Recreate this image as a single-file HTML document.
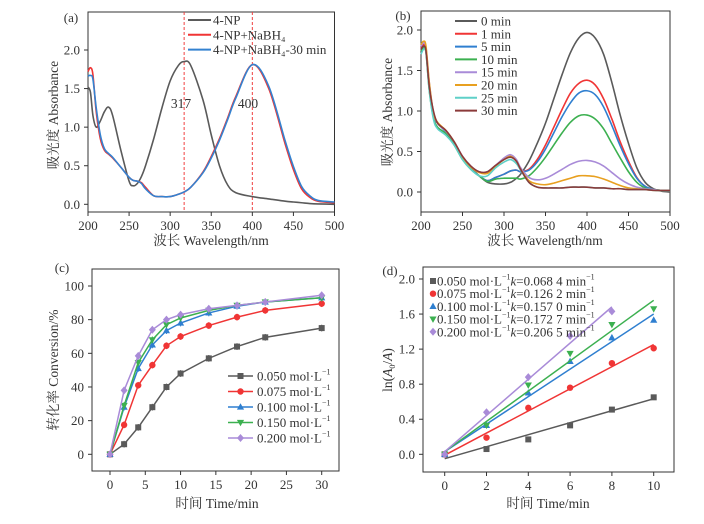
<!DOCTYPE html>
<html><head><meta charset="utf-8"><style>
html,body{margin:0;padding:0;background:#fff;width:704px;height:524px;overflow:hidden}
svg{display:block;font-family:"Liberation Serif","Noto Serif CJK SC","Noto Sans CJK SC",serif}
</style></head><body>
<svg id="fig" width="704" height="524" viewBox="0 0 704 524"></svg>
<script>
// ---------- data ----------
const wlA = [200,203,206,210,215,220,225,230,240,250,255,260,265,270,280,290,300,310,317,325,340,350,360,370,380,400,420,440,450,460,470,480,500];
const aNP   = [1.52,1.45,1.15,1.0,1.08,1.2,1.26,1.15,0.7,0.3,0.24,0.27,0.36,0.5,0.85,1.25,1.6,1.8,1.85,1.8,1.35,0.9,0.5,0.25,0.15,0.1,0.07,0.04,0.03,0.02,0.01,0.005,0.0];
const aNaBH = [1.72,1.77,1.68,1.2,0.85,0.7,0.65,0.6,0.48,0.35,0.31,0.3,0.28,0.22,0.11,0.1,0.1,0.13,0.16,0.22,0.42,0.62,0.85,1.12,1.4,1.81,1.5,0.78,0.45,0.2,0.09,0.04,0.02];
const aNaBH30 = [1.66,1.67,1.62,1.25,0.9,0.72,0.66,0.61,0.48,0.35,0.31,0.3,0.27,0.2,0.11,0.1,0.1,0.13,0.16,0.22,0.41,0.6,0.83,1.1,1.38,1.81,1.53,0.82,0.49,0.23,0.11,0.05,0.03];
const aLabels = ["4-NP","4-NP+NaBH\u2084","4-NP+NaBH\u2084-30 min"];

const wlB = [200,203,206,210,215,220,230,240,250,260,270,280,290,300,308,315,320,330,340,350,360,370,380,390,400,410,420,430,440,450,460,470,480,490,500];
const b0  = [1.78,1.82,1.75,1.3,0.95,0.85,0.75,0.6,0.42,0.3,0.2,0.12,0.1,0.1,0.12,0.17,0.22,0.38,0.6,0.85,1.15,1.45,1.72,1.9,1.97,1.9,1.7,1.35,0.95,0.6,0.3,0.12,0.04,0.01,0.0];
const b1  = [1.78,1.82,1.75,1.3,0.95,0.85,0.75,0.6,0.42,0.3,0.2,0.14,0.18,0.22,0.26,0.27,0.25,0.28,0.4,0.58,0.8,1.02,1.22,1.34,1.38,1.32,1.15,0.9,0.62,0.38,0.18,0.07,0.03,0.02,0.02];
const b5  = [1.76,1.8,1.74,1.3,0.95,0.85,0.74,0.6,0.42,0.3,0.2,0.14,0.18,0.22,0.26,0.27,0.25,0.27,0.37,0.53,0.73,0.93,1.1,1.22,1.25,1.2,1.05,0.82,0.57,0.35,0.17,0.07,0.03,0.02,0.02];
const b10 = [1.74,1.78,1.72,1.25,0.92,0.8,0.72,0.58,0.4,0.28,0.2,0.13,0.16,0.17,0.17,0.17,0.16,0.2,0.3,0.43,0.58,0.73,0.86,0.94,0.95,0.9,0.78,0.6,0.42,0.25,0.12,0.05,0.03,0.02,0.02];
const b15 = [1.8,1.84,1.78,1.35,0.98,0.85,0.75,0.62,0.44,0.32,0.25,0.25,0.33,0.42,0.46,0.4,0.3,0.18,0.15,0.17,0.22,0.28,0.34,0.38,0.39,0.37,0.32,0.24,0.16,0.1,0.06,0.04,0.03,0.02,0.02];
const b20 = [1.82,1.86,1.8,1.35,0.98,0.86,0.76,0.62,0.43,0.31,0.24,0.23,0.32,0.4,0.44,0.38,0.28,0.14,0.1,0.09,0.11,0.14,0.17,0.2,0.2,0.19,0.16,0.12,0.08,0.05,0.04,0.03,0.02,0.02,0.02];
const b25 = [1.7,1.76,1.72,1.25,0.9,0.78,0.7,0.58,0.4,0.28,0.2,0.2,0.3,0.37,0.4,0.35,0.27,0.12,0.06,0.05,0.05,0.05,0.06,0.06,0.06,0.05,0.05,0.04,0.04,0.03,0.03,0.03,0.02,0.02,0.02];
const b30 = [1.76,1.8,1.74,1.3,1.0,0.85,0.76,0.62,0.44,0.32,0.25,0.25,0.33,0.4,0.43,0.38,0.28,0.12,0.06,0.05,0.05,0.05,0.06,0.06,0.06,0.05,0.05,0.04,0.04,0.03,0.03,0.03,0.02,0.02,0.02];
const bLabels = ["0 min","1 min","5 min","10 min","15 min","20 min","25 min","30 min"];

const tC = [0,2,4,6,8,10,14,18,22,30];
const c050 = [0,6,16,28,40,48,57,64,69.5,75];
const c075 = [0,17.5,41,53,64.5,70,76.5,81.5,85.5,89.5];
const c100 = [0,28,51,65,73.5,78,84,88,90.5,93];
const c150 = [0,29,54.5,68,77,81,85.5,88.5,90.5,93];
const c200 = [0,38,58.5,74,80,83,86.5,88.5,90.5,94.5];
const cLabels = ["0.050 mol\u00b7L","0.075 mol\u00b7L","0.100 mol\u00b7L","0.150 mol\u00b7L","0.200 mol\u00b7L"];

const tD = [0,2,4,6,8,10];
const d050 = [0,0.06,0.17,0.33,0.51,0.65];
const d075 = [0,0.19,0.53,0.76,1.04,1.21];
const d100 = [0,0.33,0.70,1.06,1.33,1.53];
const d150 = [0,0.33,0.79,1.15,1.48,1.66];
const d200 = [0,0.48,0.88,1.35,1.63];
const dSlope = [0.0684,0.1262,0.1570,0.1727,0.2065];
const dIntercept = [-0.05,-0.01,0.03,0.03,0.03];
const dKText = ["0.068 4","0.126 2","0.157 0","0.172 7","0.206 5"];

const ticksA = [0,0.5,1.0,1.5,2.0];
const ticksXA = [200,250,300,350,400,450,500];
const ticksC = [0,20,40,60,80,100];
const ticksXC = [0,5,10,15,20,25,30];
const ticksD = [0,0.4,0.8,1.2,1.6,2.0];
const ticksXD = [0,2,4,6,8,10];

// ---------- helpers ----------
const NS="http://www.w3.org/2000/svg";
const fig=document.getElementById('fig');
function mk(tag,attrs,parent,txt){const e=document.createElementNS(NS,tag);for(const k in attrs)e.setAttribute(k,attrs[k]);if(txt!==undefined)e.textContent=txt;(parent||fig).appendChild(e);return e;}
function lin(d0,d1,p0,p1){return v=>p0+(v-d0)*(p1-p0)/(d1-d0);}
function smoothPath(pts){let d="M"+pts[0][0].toFixed(2)+","+pts[0][1].toFixed(2);
 for(let i=0;i<pts.length-1;i++){const p0=pts[Math.max(0,i-1)],p1=pts[i],p2=pts[i+1],p3=pts[Math.min(pts.length-1,i+2)];
  const c1=[p1[0]+(p2[0]-p0[0])/6,p1[1]+(p2[1]-p0[1])/6],c2=[p2[0]-(p3[0]-p1[0])/6,p2[1]-(p3[1]-p1[1])/6];
  d+=" C"+c1[0].toFixed(2)+","+c1[1].toFixed(2)+" "+c2[0].toFixed(2)+","+c2[1].toFixed(2)+" "+p2[0].toFixed(2)+","+p2[1].toFixed(2);}
 return d;}
function frame(g,x0,y0,x1,y1,xs,ys,xt,yt,yfmt,xfmt){
 const box=mk('rect',{x:x0,y:y0,width:x1-x0,height:y1-y0,fill:'none',stroke:'#333','stroke-width':1},g);
 
 const xa=mk('g',{},g);
 xt.forEach(v=>{const x=xs(v);mk('line',{x1:x,x2:x,y1:y1,y2:y1+4,stroke:'#333'},xa);
  const t=mk('text',{x:x,y:y1+18,'text-anchor':'middle','font-size':13,fill:'#333'},xa,xfmt(v));});
 const ya=mk('g',{},g);
 yt.forEach(v=>{const y=ys(v);mk('line',{x1:x0-4,x2:x0,y1:y,y2:y,stroke:'#333'},ya);
  const t=mk('text',{x:x0-8,y:y+4.5,'text-anchor':'end','font-size':13,fill:'#333'},ya,yfmt(v));});
}
function label(g,x,y,txt,name,rot,size){const a={x:x,y:y,'text-anchor':'middle','font-size':size||13.5,fill:'#333'};if(rot)a.transform='rotate(-90 '+x+' '+y+')';const t=mk('text',a,g,txt);return t;}
function marker(g,type,x,y,c){let e;
 if(type==='s')e=mk('rect',{x:x-3,y:y-3,width:6,height:6,fill:c},g);
 else if(type==='c')e=mk('circle',{cx:x,cy:y,r:3.2,fill:c},g);
 else if(type==='tu')e=mk('polygon',{points:`${x},${y-3.8} ${x-3.6},${y+2.6} ${x+3.6},${y+2.6}`,fill:c},g);
 else if(type==='td')e=mk('polygon',{points:`${x},${y+3.8} ${x-3.6},${y-2.6} ${x+3.6},${y-2.6}`,fill:c},g);
 else e=mk('polygon',{points:`${x},${y-4} ${x+3.5},${y} ${x},${y+4} ${x-3.5},${y}`,fill:c},g);
 return e;}
const fmt1=v=>v.toFixed(1), fmt0=v=>String(v);

// ---------- panel a ----------
{const g=mk('g',{});
 const xs=lin(200,500,88,334.5), ys=lin(0,2,204.3,50);
 frame(g,88,12,334.5,212,xs,ys,ticksXA,ticksA,fmt1,fmt0);
 [317,400].forEach(v=>{const l=mk('line',{x1:xs(v),x2:xs(v),y1:12,y2:212,stroke:'#f04040','stroke-dasharray':'3,2','stroke-width':1},g);});
 const series=[[aNP,'#5a5a5a'],[aNaBH,'#f03535'],[aNaBH30,'#3482d0']];
 series.forEach((s,i)=>{const p=mk('path',{d:smoothPath(wlA.map((w,j)=>[xs(w),ys(s[0][j])])),fill:'none',stroke:s[1],'stroke-width':1.6},g);});
 const lg=mk('g',{},g);
 series.forEach((s,i)=>{const y=20+i*14.8;mk('line',{x1:188,x2:211,y1:y,y2:y,stroke:s[1],'stroke-width':2},lg);
  const t=mk('text',{x:213,y:y+4.5,'font-size':13,fill:'#333'},lg,aLabels[i]);});
 label(g,181,108,'317','peak-label-317');label(g,248,108,'400','peak-label-400');
 label(g,71,22,'(a)','panel-label',false,13);
 label(g,211,245,'波长 Wavelength/nm','x-axis-title');
 label(g,58,115,'吸光度 Absorbance','y-axis-title',true);}

// ---------- panel b ----------
{const g=mk('g',{});
 const xs=lin(200,500,421,670), ys=lin(0,2,192,30);
 frame(g,421,11,670,212,xs,ys,ticksXA,ticksA,fmt1,fmt0);
 const sets=[b0,b1,b5,b10,b15,b20,b25,b30], cols=['#5a5a5a','#f03535','#2f7fd0','#3cb050','#a98bd8','#e8a020','#5fd0c8','#8b3a3a'];
 sets.forEach((s,i)=>{const p=mk('path',{d:smoothPath(wlB.map((w,j)=>[xs(w),ys(s[j])])),fill:'none',stroke:cols[i],'stroke-width':1.6},g);});
 const lg=mk('g',{},g);
 sets.forEach((s,i)=>{const y=21+i*12.8;mk('line',{x1:455,x2:477,y1:y,y2:y,stroke:cols[i],'stroke-width':2},lg);
  const t=mk('text',{x:481,y:y+4.5,'font-size':13,fill:'#333'},lg,bLabels[i]);});
 label(g,403,20,'(b)','panel-label',false,13);
 label(g,545,245,'波长 Wavelength/nm','x-axis-title');
 label(g,392,112,'吸光度 Absorbance','y-axis-title',true);}

// ---------- panel c ----------
{const g=mk('g',{});
 const xs=lin(0,30,110,321.7), ys=lin(0,100,454.3,286);
 frame(g,92,269,339,471,xs,ys,ticksXC,ticksC,fmt0,fmt0);
 const sets=[c050,c075,c100,c150,c200], cols=['#5a5a5a','#f03535','#2f7fd0','#3cb050','#a98bd8'], mks=['s','c','tu','td','d'];
 sets.forEach((s,i)=>{const sg=mk('g',{},g);
  const p=mk('polyline',{points:tC.map((t,j)=>xs(t)+','+ys(s[j])).join(' '),fill:'none',stroke:cols[i],'stroke-width':1.5},sg);
  tC.forEach((t,j)=>{if(j>0){const e=mk('line',{x1:xs(t),x2:xs(t),y1:ys(s[j]+2),y2:ys(s[j]-2),stroke:cols[i],'stroke-width':1},sg);}
   marker(sg,mks[i],xs(t),ys(s[j]),cols[i]);});});
 const lg=mk('g',{},g);
 sets.forEach((s,i)=>{const y=376+i*15.5;mk('line',{x1:228,x2:253,y1:y,y2:y,stroke:cols[i],'stroke-width':1.5},lg);marker(lg,mks[i],240.5,y,cols[i]);
  const t=mk('text',{x:257,y:y+4.5,'font-size':13,fill:'#333'},lg,cLabels[i]);
  mk('tspan',{'font-size':8,dy:-6},t,'\u22121');});
 label(g,62,272,'(c)','panel-label',false,13);
 label(g,217,508,'时间 Time/min','x-axis-title');
 label(g,58,370,'转化率 Conversion/%','y-axis-title',true);}

// ---------- panel d ----------
{const g=mk('g',{});
 const xs=lin(0,10,444.7,653.7), ys=lin(0,2,454.3,279);
 frame(g,423,267,674,472,xs,ys,ticksXD,ticksD,fmt1,fmt0);
 const sets=[d050,d075,d100,d150,d200], cols=['#5a5a5a','#f03535','#2f7fd0','#3cb050','#a98bd8'], mks=['s','c','tu','td','d'];
 sets.forEach((s,i)=>{const sg=mk('g',{},g);
  const tmax=tD[s.length-1];
  const l=mk('line',{x1:xs(0),y1:ys(dIntercept[i]),x2:xs(tmax),y2:ys(dIntercept[i]+dSlope[i]*tmax),stroke:cols[i],'stroke-width':1.5},sg);
  s.forEach((v,j)=>marker(sg,mks[i],xs(tD[j]),ys(v),cols[i]));});
 const lg=mk('g',{},g);
 sets.forEach((s,i)=>{const y=281+i*12.7;marker(lg,mks[i],433,y,cols[i]);
  const t=mk('text',{x:437,y:y+4.5,'font-size':13,fill:'#333'},lg,cLabels[i]);
  mk('tspan',{'font-size':8,dy:-6},t,'\u22121');
  mk('tspan',{'font-style':'italic',dy:6},t,'k');
  mk('tspan',{},t,'='+dKText[i]+' min');
  mk('tspan',{'font-size':8,dy:-6},t,'\u22121');});
 label(g,390,275,'(d)','panel-label',false,13);
 label(g,548,508,'时间 Time/min','x-axis-title');
 const yt=mk('text',{x:392,y:370,'text-anchor':'middle','font-size':13.5,fill:'#333',transform:'rotate(-90 392 370)'},g,'ln(');
 
 mk('tspan',{'font-style':'italic'},yt,'A');mk('tspan',{'font-size':8,dy:3},yt,'0');mk('tspan',{dy:-3},yt,'/');mk('tspan',{'font-style':'italic'},yt,'A');mk('tspan',{},yt,')');}
</script>
</body></html>
